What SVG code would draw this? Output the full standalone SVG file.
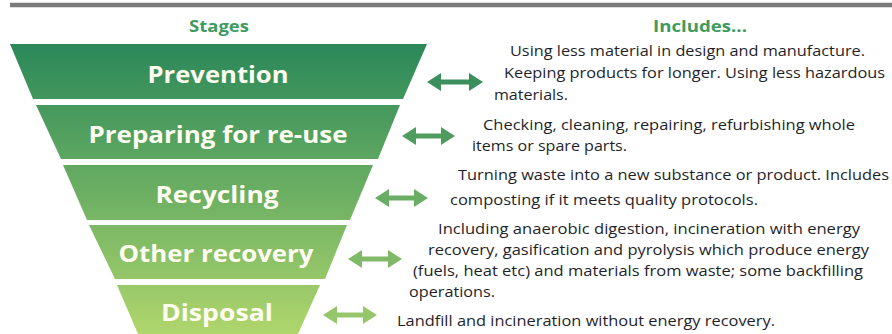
<svg xmlns="http://www.w3.org/2000/svg" width="892" height="334" viewBox="0 0 892 334">
  <defs>
    <linearGradient id="tierGrad" gradientUnits="userSpaceOnUse" x1="0" y1="44" x2="0" y2="334">
      <stop offset="0" stop-color="#2b8859"/>
      <stop offset="0.5" stop-color="#6aae63"/>
      <stop offset="1" stop-color="#b0d66c"/>
    </linearGradient>
    <style>
      .tier { fill: url(#tierGrad); }
      .label { font-family: "Open Sans", "Liberation Sans", sans-serif; font-weight: bold; font-size: 23px; fill: #fffdf0; text-anchor: middle; }
      .head { font-family: "Open Sans", "Liberation Sans", sans-serif; font-weight: bold; font-size: 16px; fill: #3e9b60; text-anchor: middle; }
      .desc { font-family: "Open Sans", "Liberation Sans", sans-serif; font-size: 14px; fill: #1f1f2a; }
    </style>
  </defs>
  <rect x="0" y="0" width="892" height="334" fill="#ffffff"/>
  <line x1="10" y1="5" x2="892" y2="5" stroke="#7a7a7a" stroke-width="4.5"/>
  <text class="head" x="219" y="32" textLength="60" lengthAdjust="spacingAndGlyphs">Stages</text>
  <text class="head" x="700" y="32" textLength="94" lengthAdjust="spacingAndGlyphs">Includes...</text>

  <g id="prevention">
    <polygon class="tier" points="10,44 427,44 403,99 33,99"/>
    <text class="label" x="218" y="83" textLength="141" lengthAdjust="spacingAndGlyphs">Prevention</text>
    <text class="desc" x="510" y="56" textLength="355" lengthAdjust="spacingAndGlyphs">Using less material in design and manufacture.</text>
    <text class="desc" x="504" y="78" textLength="381" lengthAdjust="spacingAndGlyphs">Keeping products for longer. Using less hazardous</text>
    <text class="desc" x="494" y="100" textLength="74" lengthAdjust="spacingAndGlyphs">materials.</text>
  </g>
  <g id="preparing">
    <polygon class="tier" points="36,105 400,105 378,159 61,159"/>
    <text class="label" x="218" y="143" textLength="259" lengthAdjust="spacingAndGlyphs">Preparing for re-use</text>
    <text class="desc" x="483" y="130" textLength="372" lengthAdjust="spacingAndGlyphs">Checking, cleaning, repairing, refurbishing whole</text>
    <text class="desc" x="472" y="151" textLength="155" lengthAdjust="spacingAndGlyphs">items or spare parts.</text>
  </g>
  <g id="recycling">
    <polygon class="tier" points="63,165 373,165 350,220 87,220"/>
    <text class="label" x="217" y="203" textLength="123" lengthAdjust="spacingAndGlyphs">Recycling</text>
    <text class="desc" x="458" y="180" textLength="431" lengthAdjust="spacingAndGlyphs">Turning waste into a new substance or product. Includes</text>
    <text class="desc" x="450" y="205" textLength="308" lengthAdjust="spacingAndGlyphs">composting if it meets quality protocols.</text>
  </g>
  <g id="other-recovery">
    <polygon class="tier" points="89,225 347,225 325,279 115,279"/>
    <text class="label" x="216" y="262" textLength="195" lengthAdjust="spacingAndGlyphs">Other recovery</text>
    <text class="desc" x="438" y="234" textLength="422" lengthAdjust="spacingAndGlyphs">Including anaerobic digestion, incineration with energy</text>
    <text class="desc" x="428" y="255" textLength="441" lengthAdjust="spacingAndGlyphs">recovery, gasification and pyrolysis which produce energy</text>
    <text class="desc" x="413" y="276" textLength="450" lengthAdjust="spacingAndGlyphs">(fuels, heat etc) and materials from waste; some backfilling</text>
    <text class="desc" x="409" y="297" textLength="86" lengthAdjust="spacingAndGlyphs">operations.</text>
  </g>
  <g id="disposal">
    <polygon class="tier" points="117,285 320,285 298,334 138,334"/>
    <text class="label" x="217" y="321" textLength="112" lengthAdjust="spacingAndGlyphs">Disposal</text>
    <text class="desc" x="397" y="326" textLength="378" lengthAdjust="spacingAndGlyphs">Landfill and incineration without energy recovery.</text>
  </g>

  <g id="connectors">
    <polygon fill="#3a8f5c" points="427,82 441,73 441,79.5 469,79.5 469,73 483,82 469,91 469,84.5 441,84.5 441,91"/>
    <polygon fill="#4f9c5f" points="402,136 416,127 416,133.5 441,133.5 441,127 455,136 441,145 441,138.5 416,138.5 416,145"/>
    <polygon fill="#6aad64" points="375,198 389,189 389,195.5 414,195.5 414,189 428,198 414,207 414,200.5 389,200.5 389,207"/>
    <polygon fill="#80b967" points="348,259 362,250 362,256.5 388,256.5 388,250 402,259 388,268 388,261.5 362,261.5 362,268"/>
    <polygon fill="#96c66b" points="323,315 337,306 337,312.5 363,312.5 363,306 377,315 363,324 363,317.5 337,317.5 337,324"/>
  </g>
</svg>
